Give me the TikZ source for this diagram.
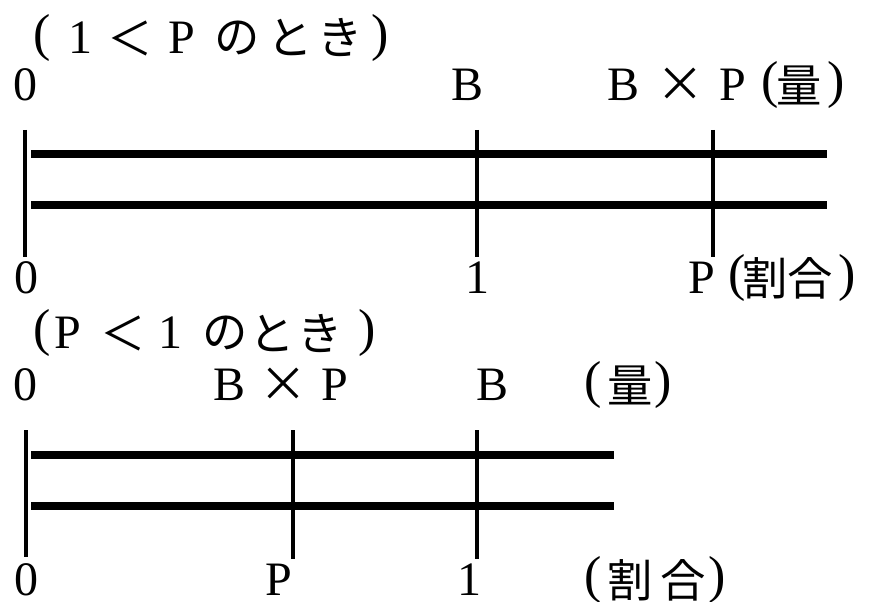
\documentclass[tikz,border=0pt]{standalone}
\usepackage{fontspec}
\setmainfont{Liberation Serif}
\newfontfamily\jpfam{Noto Sans CJK JP}
\newcommand\jpf{\fontsize{34}{38}\selectfont\jpfam}
\newcommand\parfont{\fontsize{39}{42}\selectfont}
\newcommand\timesfont{\fontsize{36}{40}\selectfont\jpfam}
\begin{document}
\begin{tikzpicture}[x=0.75pt,y=-0.75pt,
  lbl/.style={inner sep=0pt,outer sep=0pt,font=\fontsize{36}{40}\selectfont},
  bar/.style={line width=5.4pt},
  tick/.style={line width=2.5pt}]
\useasboundingbox (0,0) rectangle (870,602);
% ---------- upper diagram (1 < P) ----------
\foreach \x/\c [count=\i] in {42/{\parfont(},80/1,130/{\jpf ＜},182/P,237/{\jpf の},290/{\jpf と},340/{\jpf き},380/{\parfont)}}
  \node[lbl] (ta\i) at (\x,38) {\c};
\foreach \x/\c [count=\i] in {25/0,468/B,623/B,680/{\timesfont ×},733/P,770/{\parfont(},799/{\jpf 量},836/{\parfont)}}
  \node[lbl] (qa\i) at (\x,85) {\c};
\foreach \x/\c [count=\i] in {26/0,477/1,702/P,737/{\parfont(},765/{\jpf 割},810/{\jpf 合},847/{\parfont)}}
  \node[lbl] (ra\i) at (\x,278) {\c};
\coordinate (ua0) at (25,130); \coordinate (la0) at (25,257);
\coordinate (ua1) at (477,130); \coordinate (la1) at (477,257);
\coordinate (ua2) at (713,130); \coordinate (la2) at (713,257);
\coordinate (h1l) at (31,154); \coordinate (h1r) at (827,154);
\coordinate (h2l) at (31,205); \coordinate (h2r) at (827,205);
\draw[bar] (h1l) -- (h1r);
\draw[bar] (h2l) -- (h2r);
\draw[tick] (ua0) -- (la0);
\draw[tick] (ua1) -- (la1);
\draw[tick] (ua2) -- (la2);
% ---------- lower diagram (P < 1) ----------
\foreach \x/\c [count=\i] in {42/{\parfont(},68/P,123/{\jpf ＜},170/1,225/{\jpf の},272/{\jpf と},320/{\jpf き},367/{\parfont)}}
  \node[lbl] (tb\i) at (\x,333) {\c};
\foreach \x/\c [count=\i] in {25/0,230/B,283/{\timesfont ×},335/P,493/B,593/{\parfont(},630/{\jpf 量},663/{\parfont)}}
  \node[lbl] (qb\i) at (\x,385) {\c};
\foreach \x/\c [count=\i] in {26/0,279/P,469/1,593/{\parfont(},630/{\jpf 割},683/{\jpf 合},717/{\parfont)}}
  \node[lbl] (rb\i) at (\x,580) {\c};
\coordinate (ub0) at (26,430); \coordinate (lb0) at (26,557);
\coordinate (ub1) at (293,430); \coordinate (lb1) at (293,559);
\coordinate (ub2) at (477,430); \coordinate (lb2) at (477,559);
\coordinate (h3l) at (31,455); \coordinate (h3r) at (614,455);
\coordinate (h4l) at (31,506); \coordinate (h4r) at (614,506);
\draw[bar] (h3l) -- (h3r);
\draw[bar] (h4l) -- (h4r);
\draw[tick] (ub0) -- (lb0);
\draw[tick] (ub1) -- (lb1);
\draw[tick] (ub2) -- (lb2);
\end{tikzpicture}
\end{document}
